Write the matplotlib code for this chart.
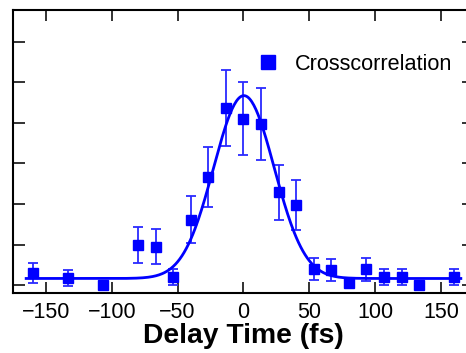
import numpy as np
import matplotlib
matplotlib.use("Agg")
import matplotlib.pyplot as plt
from matplotlib.lines import Line2D

plt.rcParams['font.family'] = ['Liberation Sans', 'DejaVu Sans']

# measured cross-correlation points
delay = [-160, -133.3, -106.7, -80, -66.7, -53.3, -40, -26.7, -13.3, 0,
         13.3, 26.7, 40, 53.3, 66.7, 80, 93.3, 106.7, 120, 133.3, 160]
signal = [0.31, 0.19, 0.0, 1.0, 0.95, 0.2, 1.62, 2.67, 4.37, 4.1,
          3.97, 2.29, 1.98, 0.40, 0.38, 0.06, 0.40, 0.2, 0.2, 0.0, 0.2]
err = [0.25, 0.2, 0.0, 0.44, 0.43, 0.2, 0.57, 0.73, 0.93, 0.9,
       0.88, 0.67, 0.62, 0.27, 0.27, 0.0, 0.28, 0.2, 0.2, 0.0, 0.2]

# gaussian fit parameters
fit_base = 0.17
fit_amp = 4.5
fit_center = 0.3
fit_sigma = 23.0

xticks = [-150, -100, -50, 0, 50, 100, 150]
yticks = [0, 1, 2, 3, 4, 5, 6]

fig = plt.figure(figsize=(4.66, 3.53), dpi=100)
ax = fig.add_axes([13 / 466, 60.3 / 353, 461 / 466, 282.4 / 353])

xf = np.linspace(-165, 165, 400)
yf = fit_base + fit_amp * np.exp(-(xf - fit_center) ** 2 / (2 * fit_sigma ** 2))
ax.plot(xf, yf, color='#0000ff', lw=2.0, zorder=3)

ax.errorbar(delay, signal, yerr=err, fmt='none', ecolor='#2a2aff',
            elinewidth=1.3, capsize=3.3, capthick=1.3, zorder=2)
ax.plot(delay, signal, 's', color='#0000ff', ms=7.8, zorder=4)

ax.set_xlim(-175, 175)
ax.set_ylim(-0.18, 6.77)
ax.set_xticks(xticks)
ax.set_yticks(yticks)
ax.set_yticklabels([])
ax.tick_params(direction='in', length=8.5, width=1.3, color='#222222',
               top=True, right=True, labelsize=15.5, pad=7)
ax.tick_params(axis='x', length=8)
for s in ['top', 'left', 'bottom']:
    ax.spines[s].set_linewidth(1.5)
ax.spines['right'].set_visible(False)

ax.set_xlabel("Delay Time (fs)", fontsize=20.3, fontweight='bold', labelpad=0)

h = Line2D([], [], ls='none', marker='s', color='#0000ff', ms=10)
ax.legend([h], ["Crosscorrelation"], loc='center left',
          bbox_to_anchor=(0.5286, 0.808), frameon=False, fontsize=15.6,
          handlelength=1.0, handletextpad=0.77, borderpad=0, borderaxespad=0)

fig.savefig("out.png", dpi=100)
